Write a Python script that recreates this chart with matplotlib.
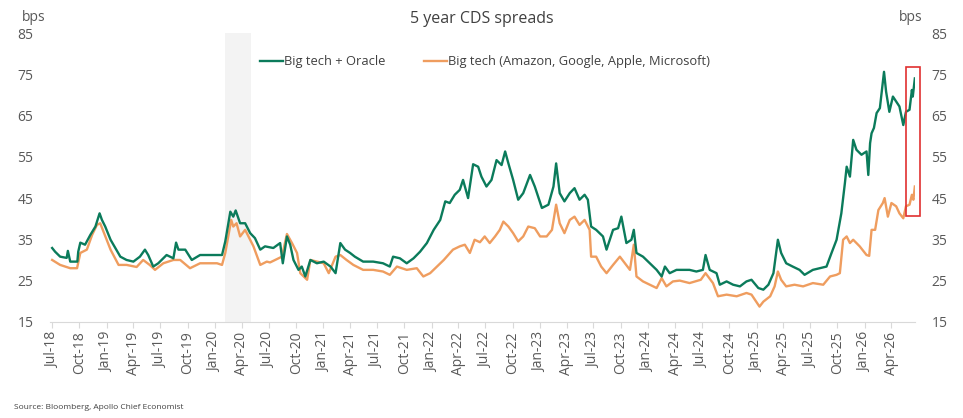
#!/usr/bin/env python3
"""
5 year CDS spreads: big tech vs big tech + Oracle.
"""
import numpy as np
import pandas as pd
import matplotlib
matplotlib.use('Agg')
import matplotlib.pyplot as plt
import matplotlib.dates as mdates
from matplotlib.patches import Rectangle

plt.rcParams['font.family'] = ['Open Sans', 'DejaVu Sans']

GREEN = '#0b7b5b'
ORANGE = '#ef9d5f'
TEXT = '#595959'

# values (bps)
green_dates = [
    '2018-07-01', '2018-07-11', '2018-07-28', '2018-08-19', '2018-08-23', '2018-08-31',
    '2018-09-24', '2018-09-27', '2018-10-04', '2018-10-20', '2018-11-07', '2018-11-24',
    '2018-12-08', '2018-12-16', '2018-12-27', '2019-01-14', '2019-01-30', '2019-02-16',
    '2019-03-09', '2019-04-01', '2019-04-23', '2019-05-10', '2019-05-21', '2019-06-07',
    '2019-06-24', '2019-07-22', '2019-08-14', '2019-08-23', '2019-08-31', '2019-09-23',
    '2019-10-15', '2019-11-12', '2019-12-27', '2020-01-25', '2020-02-05', '2020-02-22',
    '2020-03-03', '2020-03-11', '2020-03-26', '2020-04-12', '2020-04-29', '2020-05-15',
    '2020-06-02', '2020-06-18', '2020-07-16', '2020-08-08', '2020-08-17', '2020-08-31',
    '2020-09-11', '2020-09-22', '2020-10-09', '2020-10-20', '2020-11-01', '2020-11-18',
    '2020-12-10', '2021-01-02', '2021-01-25', '2021-02-11', '2021-02-27', '2021-03-15',
    '2021-04-01', '2021-04-17', '2021-05-15', '2021-06-18', '2021-07-21', '2021-08-13',
    '2021-08-24', '2021-09-16', '2021-10-09', '2021-11-01', '2021-11-23', '2021-12-16',
    '2022-01-08', '2022-01-30', '2022-02-16', '2022-03-03', '2022-03-20', '2022-04-06',
    '2022-04-17', '2022-05-04', '2022-05-21', '2022-06-07', '2022-06-18', '2022-07-05',
    '2022-07-22', '2022-08-08', '2022-08-25', '2022-09-06', '2022-09-17', '2022-10-03',
    '2022-10-20', '2022-11-06', '2022-11-29', '2022-12-15', '2023-01-08', '2023-01-30',
    '2023-02-16', '2023-02-25', '2023-03-09', '2023-03-25', '2023-04-12', '2023-04-28',
    '2023-05-15', '2023-06-01', '2023-06-12', '2023-06-23', '2023-07-10', '2023-08-02',
    '2023-08-14', '2023-09-05', '2023-09-22', '2023-10-03', '2023-10-20', '2023-11-06',
    '2023-11-14', '2023-11-23', '2023-12-15', '2024-01-07', '2024-01-30', '2024-02-16',
    '2024-02-27', '2024-03-14', '2024-04-06', '2024-04-28', '2024-05-20', '2024-06-12',
    '2024-07-04', '2024-07-13', '2024-07-27', '2024-08-19', '2024-08-30', '2024-09-22',
    '2024-10-14', '2024-11-06', '2024-11-28', '2024-12-15', '2025-01-07', '2025-01-24',
    '2025-02-10', '2025-02-27', '2025-03-14', '2025-03-25', '2025-04-11', '2025-05-03',
    '2025-05-26', '2025-06-12', '2025-07-10', '2025-08-02', '2025-08-25', '2025-09-11',
    '2025-09-28', '2025-10-14', '2025-10-26', '2025-11-01', '2025-11-12', '2025-11-23',
    '2025-12-04', '2025-12-21', '2026-01-07', '2026-01-13', '2026-01-19', '2026-01-24',
    '2026-02-01', '2026-02-10', '2026-02-21', '2026-02-28', '2026-03-07', '2026-03-14',
    '2026-03-25', '2026-04-06', '2026-04-17', '2026-04-28', '2026-05-11', '2026-05-20',
    '2026-06-01', '2026-06-09', '2026-06-12', '2026-06-19',
]
green_vals = [
    32.9, 32.0, 30.8, 30.5, 32.2, 29.6,
    29.6, 32.0, 34.2, 33.7, 36.1, 38.1,
    41.3, 39.7, 38.1, 34.9, 32.9, 30.8,
    30.0, 29.6, 30.8, 32.5, 31.2, 28.4,
    29.2, 31.2, 30.4, 34.2, 32.5, 32.5,
    30.0, 31.2, 31.2, 31.2, 34.5, 41.7,
    40.5, 42.0, 38.9, 38.9, 36.5, 35.3,
    32.5, 33.3, 32.9, 34.1, 29.2, 35.7,
    33.7, 30.0, 27.6, 28.4, 26.0, 30.0,
    29.2, 29.6, 28.4, 26.8, 34.1, 32.5,
    31.7, 30.8, 29.6, 29.6, 29.2, 28.4,
    30.8, 30.4, 29.2, 30.4, 32.0, 34.1,
    37.3, 39.7, 44.2, 43.8, 45.8, 47.0,
    49.4, 45.0, 53.2, 52.6, 50.2, 47.8,
    49.4, 54.2, 53.0, 56.3, 53.4, 49.4,
    44.6, 46.2, 50.6, 47.8, 42.6, 43.4,
    47.8, 53.4, 46.2, 44.2, 46.2, 47.4,
    44.6, 45.8, 44.6, 38.1, 37.3, 35.7,
    32.5, 37.3, 37.7, 40.5, 34.1, 34.9,
    37.3, 31.7, 30.8, 29.2, 27.6, 26.0,
    28.4, 26.8, 27.6, 27.6, 27.6, 27.2,
    27.6, 31.2, 27.6, 26.8, 24.0, 24.8,
    24.0, 23.6, 24.8, 25.2, 23.2, 22.8,
    24.0, 26.8, 34.9, 31.7, 29.2, 28.4,
    27.6, 26.4, 27.6, 28.0, 28.4, 31.7,
    34.9, 41.3, 48.6, 52.6, 50.2, 59.1,
    56.7, 55.5, 56.3, 50.6, 58.3, 60.7,
    62.0, 65.6, 66.8, 71.2, 75.6, 70.8,
    65.9, 69.6, 68.4, 67.2, 62.7, 65.9,
    66.4, 71.2, 69.6, 74.0,
]

orange_dates = [
    '2018-07-01', '2018-07-28', '2018-08-31', '2018-09-23', '2018-10-04', '2018-10-26',
    '2018-11-13', '2018-11-29', '2018-12-10', '2018-12-21', '2019-01-14', '2019-02-10',
    '2019-03-09', '2019-04-12', '2019-05-04', '2019-05-26', '2019-06-13', '2019-07-11',
    '2019-08-14', '2019-09-06', '2019-10-09', '2019-11-12', '2020-01-08', '2020-01-25',
    '2020-02-05', '2020-02-25', '2020-03-03', '2020-03-14', '2020-03-26', '2020-04-12',
    '2020-05-10', '2020-06-02', '2020-06-24', '2020-07-05', '2020-08-02', '2020-08-14',
    '2020-08-31', '2020-09-17', '2020-10-04', '2020-10-15', '2020-11-07', '2020-11-18',
    '2020-12-10', '2021-01-02', '2021-01-19', '2021-02-11', '2021-02-27', '2021-03-20',
    '2021-04-12', '2021-05-15', '2021-06-18', '2021-07-21', '2021-08-13', '2021-09-06',
    '2021-10-09', '2021-11-12', '2021-12-04', '2021-12-27', '2022-01-19', '2022-02-11',
    '2022-03-14', '2022-04-06', '2022-04-23', '2022-05-10', '2022-05-26', '2022-06-13',
    '2022-06-29', '2022-07-16', '2022-08-03', '2022-08-19', '2022-08-31', '2022-09-17',
    '2022-10-03', '2022-10-20', '2022-11-06', '2022-11-23', '2022-12-15', '2023-01-02',
    '2023-01-24', '2023-02-11', '2023-02-25', '2023-03-09', '2023-03-25', '2023-04-12',
    '2023-04-28', '2023-05-15', '2023-06-01', '2023-06-18', '2023-06-23', '2023-07-10',
    '2023-07-27', '2023-08-14', '2023-09-05', '2023-09-28', '2023-10-15', '2023-11-01',
    '2023-11-14', '2023-11-23', '2023-12-15', '2024-01-07', '2024-01-30', '2024-02-16',
    '2024-03-03', '2024-03-25', '2024-04-17', '2024-05-20', '2024-06-27', '2024-07-13',
    '2024-08-07', '2024-08-24', '2024-09-22', '2024-10-26', '2024-11-28', '2024-12-15',
    '2025-01-11', '2025-01-24', '2025-02-16', '2025-03-03', '2025-03-14', '2025-03-25',
    '2025-04-11', '2025-05-09', '2025-06-07', '2025-07-10', '2025-08-14', '2025-09-06',
    '2025-09-28', '2025-10-09', '2025-10-20', '2025-11-01', '2025-11-12', '2025-11-23',
    '2025-12-15', '2026-01-07', '2026-01-16', '2026-01-24', '2026-02-05', '2026-02-16',
    '2026-03-03', '2026-03-09', '2026-03-20', '2026-04-01', '2026-04-17', '2026-04-28',
    '2026-05-11', '2026-05-20', '2026-06-01', '2026-06-09', '2026-06-14', '2026-06-19',
]
orange_vals = [
    30.0, 28.8, 28.0, 28.0, 31.7, 32.5,
    36.1, 38.5, 38.9, 36.9, 32.5, 28.8,
    28.8, 28.3, 30.0, 28.8, 27.6, 29.2,
    30.0, 30.0, 28.0, 29.2, 29.2, 28.8,
    31.7, 39.7, 38.1, 38.9, 35.7, 37.3,
    33.3, 28.8, 29.6, 29.4, 30.4, 30.8,
    36.3, 34.1, 31.7, 26.8, 25.2, 30.0,
    29.6, 29.2, 26.8, 30.8, 31.2, 30.0,
    28.8, 27.6, 27.6, 27.2, 26.4, 28.4,
    27.6, 28.0, 26.0, 26.8, 28.4, 30.0,
    32.5, 33.3, 33.7, 31.7, 34.9, 34.3,
    35.7, 34.1, 35.7, 37.3, 39.3, 38.1,
    36.5, 34.5, 35.7, 38.1, 37.7, 35.7,
    35.7, 37.3, 43.4, 38.9, 36.5, 39.7,
    40.5, 38.5, 39.7, 37.3, 30.8, 30.8,
    28.4, 26.8, 28.8, 30.8, 29.2, 27.6,
    33.7, 26.0, 24.8, 24.0, 23.2, 25.6,
    23.6, 24.8, 25.0, 24.4, 25.2, 26.8,
    24.4, 21.2, 21.6, 21.2, 22.0, 21.6,
    18.7, 19.9, 21.2, 23.6, 27.2, 25.2,
    23.6, 24.0, 23.6, 24.4, 24.0, 26.0,
    26.4, 26.8, 34.9, 35.7, 34.1, 34.9,
    33.3, 31.2, 31.0, 37.3, 37.3, 42.1,
    43.8, 45.0, 40.5, 43.8, 43.0, 41.3,
    40.1, 43.0, 43.4, 45.8, 44.6, 47.8,
]

recession = ('2020-02-03', '2020-05-01')
highlight_dates = ('2026-05-20', '2026-07-05')
highlight_vals = (40.7, 76.8)
yticks = [15, 25, 35, 45, 55, 65, 75, 85]


def main():
    gd = pd.to_datetime(green_dates)
    od = pd.to_datetime(orange_dates)

    fig = plt.figure(figsize=(9.63, 4.18), dpi=100)
    ax = fig.add_axes([0.052, 0.23, 0.898, 0.691])

    ax.axvspan(pd.Timestamp(recession[0]), pd.Timestamp(recession[1]),
               color='#f3f3f3', lw=0, zorder=0)
    ax.plot(gd, green_vals, color=GREEN, lw=1.7, label='Big tech + Oracle', zorder=3)
    ax.plot(od, orange_vals, color=ORANGE, lw=1.7,
            label='Big tech (Amazon, Google, Apple, Microsoft)', zorder=2)

    x0 = mdates.date2num(pd.Timestamp(highlight_dates[0]))
    x1 = mdates.date2num(pd.Timestamp(highlight_dates[1]))
    ax.add_patch(Rectangle((x0, highlight_vals[0]), x1 - x0,
                           highlight_vals[1] - highlight_vals[0],
                           fill=False, ec='#e03030', lw=1.2, clip_on=False, zorder=5))

    ax.set_xlim(pd.Timestamp('2018-06-24'), pd.Timestamp('2026-06-19'))
    ax.set_ylim(15, 85)
    ax.set_yticks(yticks)

    ax.xaxis.set_major_locator(mdates.MonthLocator(bymonth=[1, 4, 7, 10]))
    ax.xaxis.set_major_formatter(mdates.DateFormatter('%b-%y'))
    ax.tick_params(axis='x', rotation=90, labelsize=10, labelcolor=TEXT,
                   color='#d9d9d9', length=4, pad=3)
    ax.tick_params(axis='y', length=0, labelsize=10, labelcolor=TEXT, pad=12,
                   labelright=True)
    for side in ('top', 'left', 'right'):
        ax.spines[side].set_visible(False)
    ax.spines['bottom'].set_color('#d9d9d9')

    fig.text(0.5, 0.955, '5 year CDS spreads', ha='center', va='center',
             fontsize=11.5, color='#404040')
    fig.text(0.035, 0.958, 'bps', ha='center', va='center', fontsize=10, color=TEXT)
    fig.text(0.946, 0.958, 'bps', ha='center', va='center', fontsize=10, color=TEXT)
    fig.text(0.015, 0.026, 'Source: Bloomberg, Apollo Chief Economist',
             ha='left', va='center', fontsize=6, color='#404040')

    fig.legend(loc='center left', bbox_to_anchor=(0.2575, 0.852), ncol=2,
               frameon=False, fontsize=9.3, handlelength=1.8, handletextpad=0.1,
               columnspacing=2.95, labelcolor='#404040')

    fig.savefig('out.png', dpi=100)


if __name__ == '__main__':
    main()
